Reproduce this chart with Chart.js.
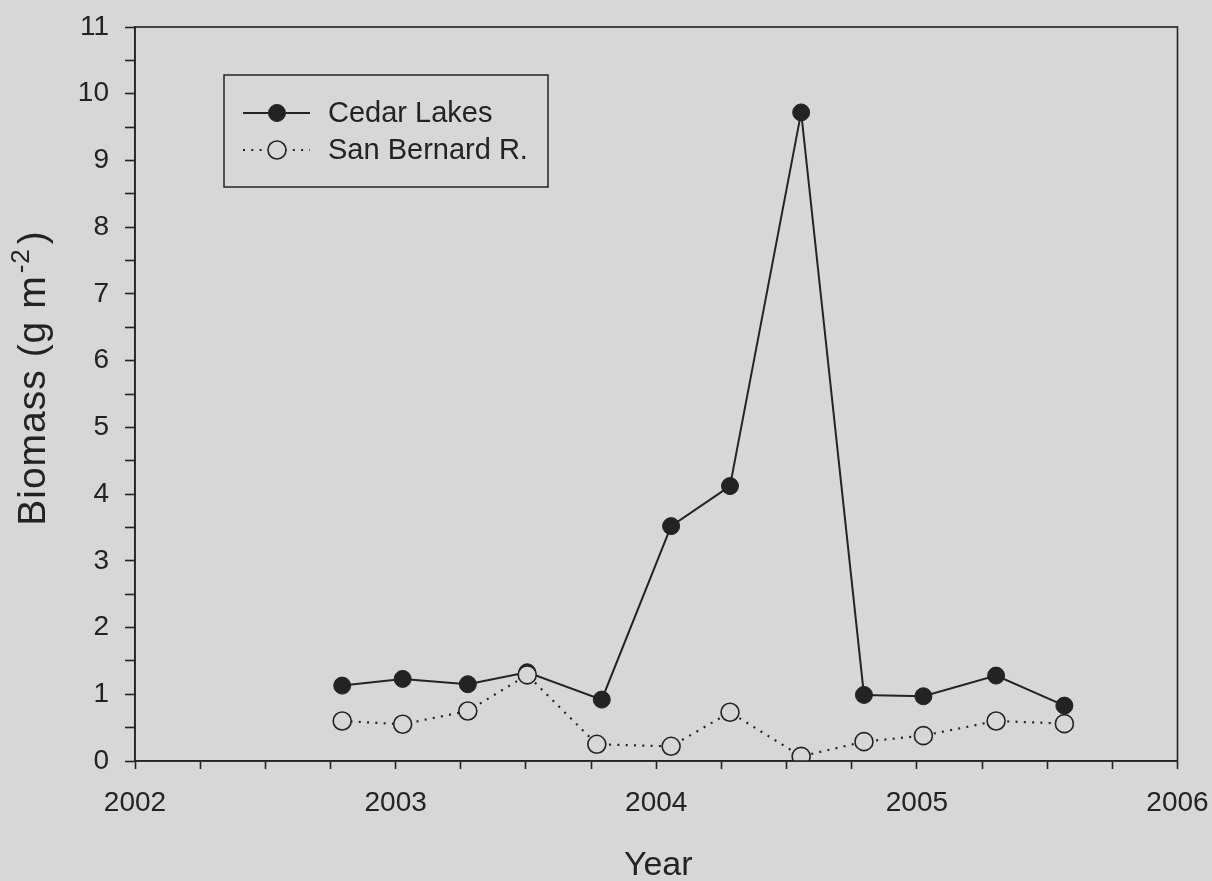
<!DOCTYPE html>
<html>
<head>
<meta charset="utf-8">
<title>Biomass - Cedar Lakes / San Bernard R.</title>
<script src="https://cdn.jsdelivr.net/npm/chart.js@4.4.1/dist/chart.umd.min.js"></script>
<style>
    html, body { margin: 0; padding: 0; background: #d7d7d7; overflow: hidden; }
    #wrap { width: 1212px; height: 881px; position: relative; }
    canvas { display: block; }
</style>
</head>
<body>
<div id="wrap"><canvas id="biomassChart"></canvas></div>
<script>
// ─────────────── DATA ───────────────
// sampling dates as decimal years, biomass in g m-2
const cedarDates = [2002.795, 2003.027, 2003.277, 2003.505, 2003.791, 2004.057, 2004.283, 2004.556, 2004.797, 2005.025, 2005.304, 2005.566];
const cedarBiomass = [1.13, 1.23, 1.15, 1.33, 0.92, 3.52, 4.12, 9.72, 0.99, 0.97, 1.28, 0.83];

const sanBernardDates = [2002.795, 2003.027, 2003.277, 2003.505, 2003.772, 2004.057, 2004.283, 2004.556, 2004.797, 2005.025, 2005.304, 2005.566];
const sanBernardBiomass = [0.60, 0.55, 0.75, 1.29, 0.25, 0.22, 0.73, 0.07, 0.29, 0.38, 0.60, 0.56];

const yearTicks = [2002, 2003, 2004, 2005, 2006];
const biomassTicks = [0, 1, 2, 3, 4, 5, 6, 7, 8, 9, 10, 11];

// ─────────────── STYLE ───────────────
const INK = '#232323';
const BG = '#d7d7d7';
const FONT = '"Liberation Sans", Arial, sans-serif';

const toPoints = (xs, ys) => xs.map((x, i) => ({ x: x, y: ys[i] }));

// frame, axis titles and the boxed legend
const framePlugin = {
    id: 'framePlugin',
    afterDraw(chart) {
        const { ctx, chartArea: a } = chart;
        ctx.save();

        // box round the plot
        ctx.strokeStyle = INK;
        ctx.lineWidth = 1.6;
        ctx.strokeRect(a.left, a.top, a.right - a.left, a.bottom - a.top);

        // x title
        ctx.fillStyle = INK;
        ctx.font = '34px ' + FONT;
        ctx.textAlign = 'left';
        ctx.textBaseline = 'alphabetic';
        const yearW = ctx.measureText('Year').width;
        ctx.fillText('Year', (a.left + a.right) / 2 + 2 - yearW / 2, chart.height - 6);

        // y title with superscript
        ctx.save();
        ctx.translate(45, 378);
        ctx.rotate(-Math.PI / 2);
        ctx.letterSpacing = '1px';
        ctx.font = '39px ' + FONT;
        const main = 'Biomass (g m';
        const w1 = ctx.measureText(main).width + 2;
        const w3 = ctx.measureText(')').width;
        ctx.font = '26px ' + FONT;
        const w2 = ctx.measureText('-2').width + 4;
        let x0 = -(w1 + w2 + w3) / 2;
        ctx.font = '39px ' + FONT;
        ctx.fillText(main, x0, 0);
        ctx.font = '26px ' + FONT;
        ctx.fillText('-2', x0 + w1, -16);
        ctx.font = '39px ' + FONT;
        ctx.fillText(')', x0 + w1 + w2, 0);
        ctx.restore();

        // legend
        const lx = a.left + 89, ly = a.top + 48, lw = 324, lh = 112;
        ctx.fillStyle = BG;
        ctx.fillRect(lx, ly, lw, lh);
        ctx.lineWidth = 1.5;
        ctx.strokeStyle = INK;
        ctx.strokeRect(lx, ly, lw, lh);

        chart.data.datasets.forEach((ds, i) => {
            const ry = ly + 38 + i * 37;
            ctx.save();
            ctx.strokeStyle = ds.borderColor;
            ctx.lineWidth = ds.borderWidth;
            ctx.setLineDash(ds.borderDash || []);
            ctx.beginPath();
            ctx.moveTo(lx + 19, ry);
            ctx.lineTo(lx + 86, ry);
            ctx.stroke();
            ctx.setLineDash([]);
            ctx.beginPath();
            ctx.arc(lx + 53, ry, ds.pointRadius, 0, Math.PI * 2);
            ctx.fillStyle = ds.pointBackgroundColor;
            ctx.fill();
            ctx.lineWidth = ds.pointBorderWidth;
            ctx.strokeStyle = ds.pointBorderColor;
            ctx.stroke();
            ctx.restore();

            ctx.fillStyle = INK;
            ctx.font = '29px ' + FONT;
            ctx.textBaseline = 'middle';
            ctx.fillText(ds.label, lx + 104, ry + 1);
        });

        ctx.restore();
    }
};

// ─────────────── CHART ───────────────
new Chart(document.getElementById('biomassChart'), {
    type: 'line',
    data: {
        datasets: [
            {
                label: 'Cedar Lakes',
                data: toPoints(cedarDates, cedarBiomass),
                borderColor: INK,
                borderWidth: 2,
                pointRadius: 8.5,
                pointBackgroundColor: INK,
                pointBorderColor: INK,
                pointBorderWidth: 1,
                tension: 0,
                order: 2
            },
            {
                label: 'San Bernard R.',
                data: toPoints(sanBernardDates, sanBernardBiomass),
                borderColor: INK,
                borderWidth: 2.2,
                borderDash: [2, 6.3],
                borderCapStyle: 'butt',
                pointRadius: 9,
                pointBackgroundColor: BG,
                pointBorderColor: INK,
                pointBorderWidth: 1.6,
                tension: 0,
                order: 1
            }
        ]
    },
    options: {
        responsive: true,
        maintainAspectRatio: false,
        animation: false,
        layout: { autoPadding: false, padding: { left: 0, right: 34.5, top: 27, bottom: 0 } },
        plugins: {
            legend: { display: false },
            tooltip: { enabled: false }
        },
        scales: {
            x: {
                type: 'linear',
                min: yearTicks[0],
                max: yearTicks[yearTicks.length - 1],
                // fixed box; drop the label overflow padding so the layout padding rules
                afterFit: (s) => { s.height = 120; s.paddingLeft = 0; s.paddingRight = 0; },
                border: { color: INK, width: 1.6 },
                grid: { drawOnChartArea: false, drawTicks: true, tickLength: 8, tickColor: INK, tickWidth: 1.6 },
                ticks: {
                    stepSize: 0.25,
                    autoSkip: false,
                    maxRotation: 0,
                    padding: 17,
                    color: INK,
                    font: { size: 28, family: FONT },
                    callback: (v) => yearTicks.includes(v) ? String(v) : ''
                }
            },
            y: {
                type: 'linear',
                min: biomassTicks[0],
                max: biomassTicks[biomassTicks.length - 1],
                afterFit: (s) => { s.width = 135; s.paddingTop = 0; s.paddingBottom = 0; },
                border: { color: INK, width: 1.6 },
                grid: { drawOnChartArea: false, drawTicks: true, tickLength: 10, tickColor: INK, tickWidth: 1.6 },
                ticks: {
                    stepSize: 0.5,
                    autoSkip: false,
                    padding: 16,
                    color: INK,
                    font: { size: 28, family: FONT },
                    callback: (v) => biomassTicks.includes(v) ? String(v) : ''
                }
            }
        }
    },
    plugins: [framePlugin]
});
</script>
</body>
</html>
